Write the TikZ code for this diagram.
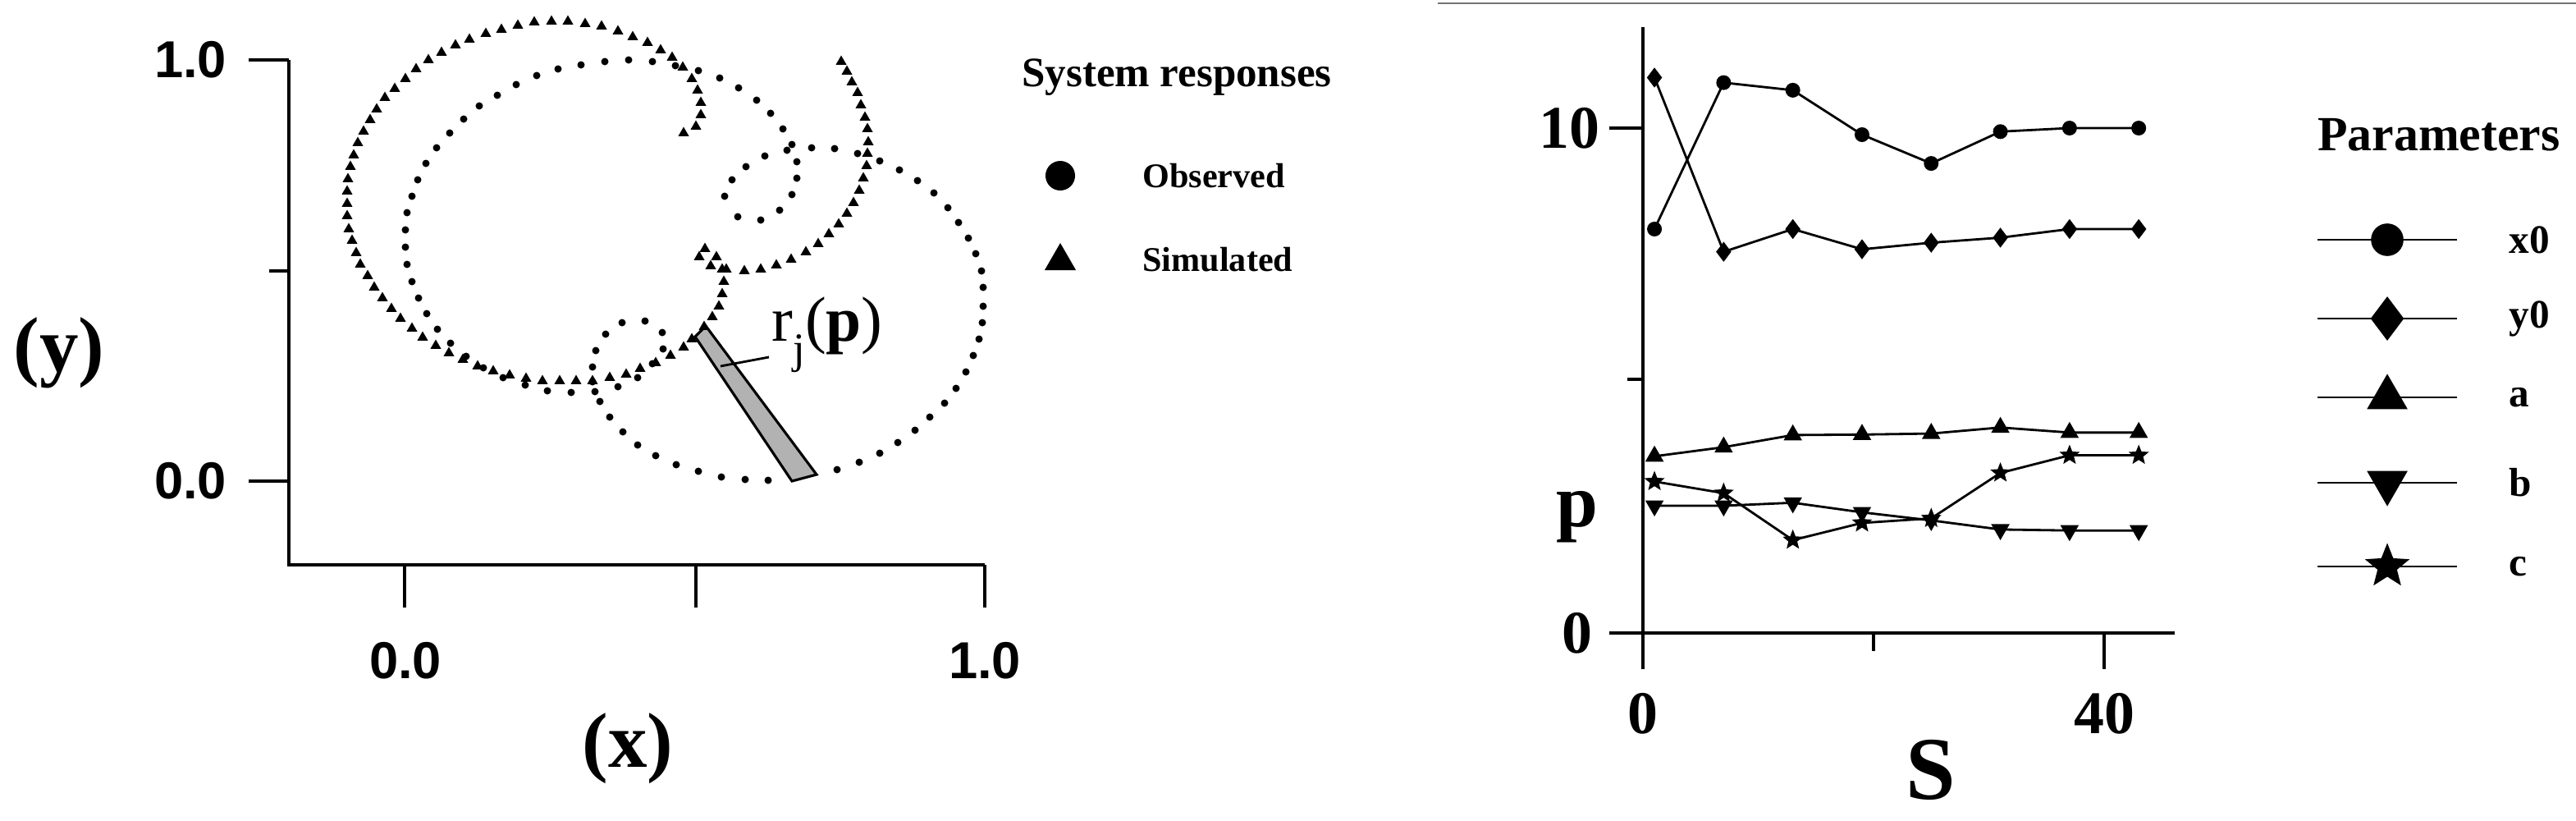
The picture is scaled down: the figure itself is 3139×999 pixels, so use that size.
\documentclass[tikz,border=0pt]{standalone}
\usepackage{fontspec}
\setmainfont{Liberation Serif}
\newfontfamily\axsans{Liberation Sans}
\usetikzlibrary{shapes.geometric}
\begin{document}
\begin{tikzpicture}[x=0.01cm,y=-0.01cm,
  axis/.style={line width=0.9pt},
  obs/.style={circle,fill,inner sep=0,minimum size=0.9mm},
  sim/.style={regular polygon,regular polygon sides=3,fill,inner sep=0,minimum size=1.5mm},
  mcirc/.style={circle,fill,inner sep=0,minimum size=1.8mm},
  mdiam/.style={diamond,fill,inner sep=0,minimum width=1.9mm,minimum height=2.5mm},
  mtri/.style={regular polygon,regular polygon sides=3,fill,inner sep=0,minimum size=2.6mm},
  mdown/.style={regular polygon,regular polygon sides=3,shape border rotate=180,fill,inner sep=0,minimum size=2.6mm},
  mstar/.style={star,star points=5,star point ratio=2.3,fill,inner sep=0,minimum size=2.6mm},
  dline/.style={line width=0.8pt},
  lab/.style={font=\bfseries\fontsize{12}{14}\selectfont},
  plab/.style={font=\bfseries\fontsize{14}{16}\selectfont},
  num/.style={font=\axsans\bfseries\fontsize{18}{20}\selectfont},
  rnum/.style={font=\bfseries\fontsize{21}{24}\selectfont}]
\useasboundingbox (0,0) rectangle (3139,999);
% ---------- left plot axes
\draw[axis] (352,73) -- (352,688) -- (1200,688);
\draw[axis] (303,73) -- (352,73);
\draw[axis] (328,330) -- (352,330);
\draw[axis] (303,586) -- (352,586);
\foreach \xx in {493,848,1200} \draw[axis] (\xx,688) -- (\xx,740);
\node[num] (yl1) at (232,73) {1.0};
\node[num] (yl0) at (232,586) {0.0};
\node[num] (xl0) at (494,805) {0.0};
\node[num] (xl1) at (1200,805) {1.0};
\node[font=\bfseries\fontsize{27}{30}\selectfont] (xlab) at (765,912) {(x)};
\node[font=\bfseries\fontsize{27}{30}\selectfont] (ylab) at (72,430) {(y)};
% ---------- residual bar
\filldraw[fill=black!30,line width=0.9pt] (847,410) -- (860,397) -- (995,578) -- (965,586) -- cycle;
\node[anchor=west,inner sep=0,font=\fontsize{22}{26}\selectfont] (rj) at (940,408) {r\raisebox{-0.35em}{\fontsize{15}{18}\selectfont j}(\textbf{p})};
\coordinate (rjend) at (937,435);
\draw[line width=0.8pt] (rjend) -- (878,446);
% ---------- observed dots
\foreach \p in {(629,103),(654,92),(680,84),(708,79),(737,75),(766,73),(795,75),(823,80),(851,86),(877,95),(900,107),(922,122),(939,138),(954,157),(965,176),(971,197),(971,217),(965,237),(950,256),(927,268),(899,264),(883,239),(892,219),(909,203),(932,190),(959,183),(989,180),(1017,181),(1045,187),(1072,196),(1096,207),(1118,220),(1138,235),(1155,253),(1168,271),(1180,290),(1189,309),(1196,330),(1198,350),(1198,373),(1197,393),(1193,413),(1186,433),(1177,453),(1165,473),(1151,491),(1133,508),(1115,524),(1094,539),(1072,552),(1047,563),(1020,572),(936,585),(908,584),(879,581),(851,574),(824,566),(799,555),(777,542),(759,526),(743,508),(731,489),(725,477),(722,465),(722,447),(726,427),(738,407),(758,393),(786,391),(807,405),(808,425),(795,443),(777,460),(753,471),(696,478),(667,476),(640,469),(613,460),(589,448),(568,434),(549,418),(533,401),(520,382),(510,363),(502,343),(496,322),(494,301),(494,280),(496,259),(502,239),(509,219),(519,199),(532,180),(548,162),(565,145),(584,129),(606,116)}
  \node[obs] at \p {};
% ---------- simulated triangles
\foreach \p in {(833,162),(848,154),(854,140),(854,125),(850,110),(843,96),(832,82),(819,70),(805,61),(789,52),(771,45),(753,38),(733,32),(713,29),(692,26),(672,26),(651,27),(631,31),(611,36),(592,41),(572,48),(555,55),(538,64),(522,73),(507,84),(494,96),(481,108),(469,119),(459,133),(451,146),(443,160),(436,174),(431,189),(427,203),(424,218),(423,233),(423,248),(423,263),(425,279),(429,293),(434,308),(439,322),(448,336),(456,350),(466,363),(477,376),(488,388),(502,400),(515,411),(531,421),(547,430),(564,438),(582,446),(601,452),(621,457),(641,461),(661,464),(682,464),(702,464),(722,464),(743,460),(763,456),(780,449),(799,442),(817,433),(833,423),(843,413),(858,398),(868,386),(876,373),(880,358),(882,343),(880,328),(885,328),(866,324),(873,313),(852,313),(859,303),(907,330),(927,328),(946,323),(964,316),(982,307),(997,297),(1010,285),(1022,273),(1032,260),(1040,247),(1047,232),(1052,217),(1056,202),(1057,187),(1058,173),(1057,157),(1054,143),(1049,128),(1045,113),(1038,100),(1032,87),(1025,75)}
  \node[sim] at \p {};
% ---------- left legend
\node[font=\bfseries\fontsize{14.5}{17}\selectfont] (sr) at (1434,94) {System responses};
\node[circle,fill,inner sep=0,minimum size=3.6mm] (lo) at (1292,214) {};
\node[regular polygon,regular polygon sides=3,fill,inner sep=0,minimum size=4.4mm] (ls) at (1292,318) {};
\node[lab,anchor=west] (lot) at (1380,214) {Observed};
\node[lab,anchor=west] (lst) at (1380,316) {Simulated};
% ---------- top line
\draw[black!55,line width=0.8pt] (1752,4) -- (3139,4);
% ---------- right plot axes
\draw[axis] (2002,33) -- (2002,815);
\draw[axis] (1961,771) -- (2650,771);
\draw[axis] (1961,156) -- (2002,156);
\draw[axis] (1983,462) -- (2002,462);
\draw[axis] (2283,771) -- (2283,793);
\draw[axis] (2564,771) -- (2564,815);
\node[rnum] (r10) at (1912,156) {10};
\node[rnum] (r0) at (1922,771) {0};
\node[rnum] (s0) at (2002,869) {0};
\node[rnum] (s40) at (2564,869) {40};
\node[font=\bfseries\fontsize{31}{34}\selectfont] (slab) at (2353,938) {S};
\node[font=\bfseries\fontsize{26}{30}\selectfont] (plab) at (1922,630) {p};
% ---------- right data
\foreach \i/\v in {1/8.0,2/10.9,3/10.75,4/9.87,5/9.3,6/9.93,7/10.0,8/10.0}
  \node[mcirc] (xa\i) at ({2002+14.05*(6*\i-5)},{771-61.5*\v}) {};
\foreach \i/\v in {1/11.0,2/7.55,3/8.0,4/7.6,5/7.73,6/7.83,7/8.0,8/8.0}
  \node[mdiam] (ya\i) at ({2002+14.05*(6*\i-5)},{771-61.5*\v}) {};
\foreach \i/\v in {1/3.5,2/3.68,3/3.92,4/3.93,5/3.95,6/4.07,7/3.97,8/3.97}
  \node[mtri] (aa\i) at ({2002+14.05*(6*\i-5)},{771-61.5*\v}) {};
\foreach \i/\v in {1/2.52,2/2.52,3/2.58,4/2.39,5/2.23,6/2.05,7/2.03,8/2.03}
  \node[mdown] (ba\i) at ({2002+14.05*(6*\i-5)},{771-61.5*\v}) {};
\foreach \i/\v in {1/3.0,2/2.77,3/1.84,4/2.18,5/2.27,6/3.17,7/3.52,8/3.52}
  \node[mstar] (ca\i) at ({2002+14.05*(6*\i-5)},{771-61.5*\v}) {};
\foreach \s in {xa,ya,aa,ba,ca}
  \draw[dline] (\s1.center) -- (\s2.center) -- (\s3.center) -- (\s4.center) -- (\s5.center) -- (\s6.center) -- (\s7.center) -- (\s8.center);
% ---------- right legend
\node[font=\bfseries\fontsize{17}{20}\selectfont] (ptitle) at (2972,164) {Parameters};
\foreach \y/\st/\t/\n in {292/mcirc/x0/lx,388/mdiam/y0/ly,484/mtri/a/la,588/mdown/b/lb,690/mstar/c/lc}{
  \coordinate (\n l) at (2824,\y);
  \coordinate (\n r) at (2994,\y);
  \draw[dline] (\n l) -- (\n r);
  \node[\st,scale=2.2] (\n m) at (2909,\y) {};
  \node[plab,anchor=west] (\n t) at (3045,\y) {\t};
}
\end{tikzpicture}
\end{document}
